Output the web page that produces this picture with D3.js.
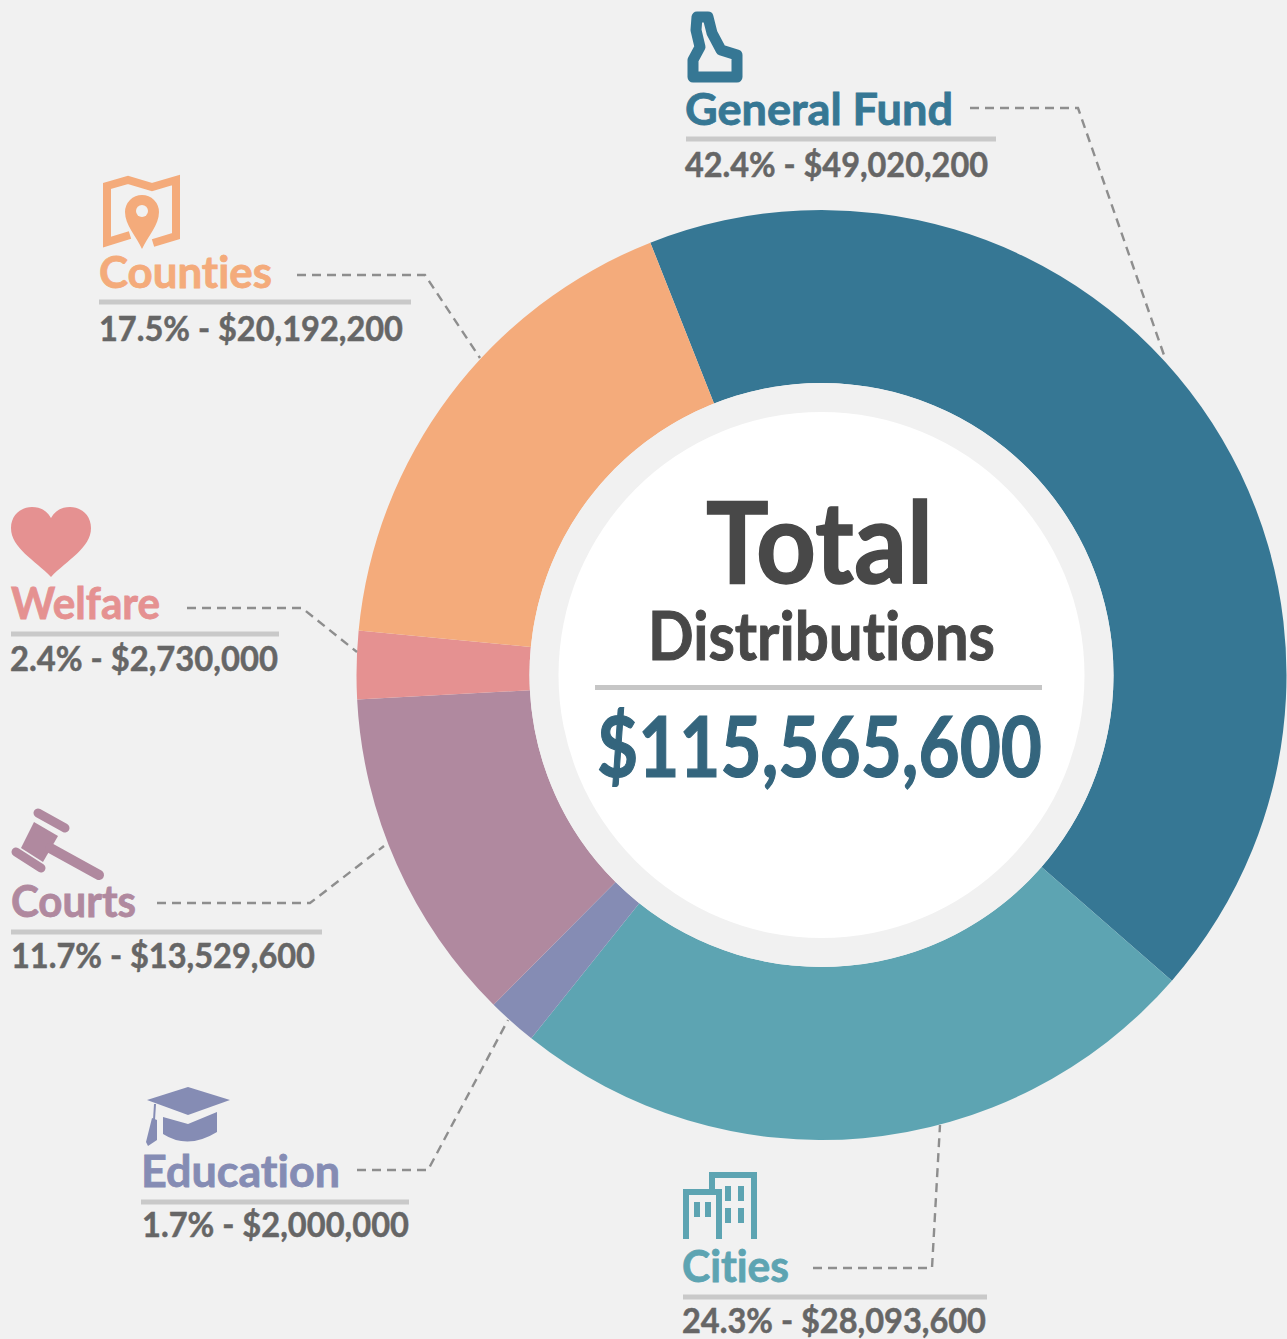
<!DOCTYPE html>
<html>
<head>
<meta charset="utf-8">
<script src="https://cdn.jsdelivr.net/npm/d3@7/dist/d3.min.js"></script>
<style>
html,body{margin:0;padding:0;background:#f1f1f1;overflow:hidden}
svg{display:block}
text{font-family:Lato,"Open Sans",sans-serif;font-weight:700;font-variant-ligatures:none;paint-order:stroke}
</style>
</head>
<body>
<svg id="chart" width="1287" height="1339"></svg>
<script>
const categories = ["General Fund","Cities","Education","Courts","Welfare","Counties"];
const amounts = [49020200,28093600,2000000,13529600,2730000,20192200];
const colors = ["#367794","#5da4b2","#858cb4","#b0899f","#e59191","#f4ab7b"];

// Layout of the callouts, in the same order as the categories
const titleAnchors = [[685,125,268,44],[682,1282,107,44],[141,1187,199,44],[11,917,125,44],[11,619,149,44],[99,288,173,44]];
const ruleSpans = [[686,996,139],[683,987,1297],[141,409,1202],[11,322,932],[11,279,634],[99,411,302]];
const detailAnchors = [[685,177,303],[682,1333,304],[142,1237,267],[11,968,304],[10,671,268],[99,341,304]];
const leaders = [
  [[970,108],[1078,108],[1165,358]],
  [[813,1268],[932,1268],[940,1125]],
  [[357,1170],[428,1170],[508,1020]],
  [[157,903],[310,903],[384,846]],
  [[187,608],[302,608],[357,652]],
  [[297,275],[425,275],[480,358]]
];

const svg = d3.select("#chart");
const W = 1287, H = 1339, cx = 821.5, cy = 675;
svg.append("rect").attr("width",W).attr("height",H).attr("fill","#f1f1f1");

const total = d3.sum(amounts);
const startDeg = -21.6;
const pie = d3.pie().sort(null)
  .startAngle(startDeg*Math.PI/180)
  .endAngle((startDeg+360)*Math.PI/180)(amounts);
const arc = d3.arc().innerRadius(292).outerRadius(465);

const ring = svg.append("g").attr("transform",`translate(${cx},${cy})`);
ring.selectAll("path").data(pie).join("path")
  .attr("d",arc).attr("fill",(d,i)=>colors[i]);
ring.append("circle").attr("r",292).attr("fill","#f1f1f1");
ring.append("circle").attr("r",263).attr("fill","#ffffff");

// leader lines
const line = d3.line();
svg.append("g").selectAll("path").data(leaders).join("path")
  .attr("d",line).attr("fill","none").attr("stroke","#8e8e8e")
  .attr("stroke-width",2.4).attr("stroke-dasharray","9 6");

// callout text
const money = d3.format("$,");
const pct = d3.format(".1%");
const call = svg.append("g");
categories.forEach((c,i)=>{
  const [tx,ty,tw,ts] = titleAnchors[i];
  call.append("text").attr("x",tx).attr("y",ty).attr("font-size",ts)
    .attr("fill",colors[i]).attr("stroke",colors[i]).attr("stroke-width",0.8)
    .attr("textLength",tw).attr("lengthAdjust","spacingAndGlyphs").text(c);
  const [x0,x1,ry] = ruleSpans[i];
  call.append("rect").attr("x",x0).attr("y",ry-2.5).attr("width",x1-x0).attr("height",5).attr("fill","#c9c9c9");
  const [dx,dy,dw] = detailAnchors[i];
  call.append("text").attr("x",dx).attr("y",dy).attr("font-size",35)
    .attr("fill","#666666").attr("stroke","#666666").attr("stroke-width",0.5)
    .attr("textLength",dw).attr("lengthAdjust","spacingAndGlyphs")
    .text(`${pct(amounts[i]/total)} - ${money(amounts[i])}`);
});

// centre text
const mid = svg.append("g");
mid.append("text").attr("x",706).attr("y",583).attr("font-size",113).attr("fill","#484848")
  .attr("stroke","#484848").attr("stroke-width",1.5)
  .attr("textLength",227).attr("lengthAdjust","spacingAndGlyphs").text("Total");
mid.append("text").attr("x",648).attr("y",660).attr("font-size",67).attr("fill","#484848")
  .attr("stroke","#484848").attr("stroke-width",1)
  .attr("textLength",347).attr("lengthAdjust","spacingAndGlyphs").text("Distributions");
mid.append("rect").attr("x",595).attr("y",685).attr("width",447).attr("height",5).attr("fill","#c6c6c6");
mid.append("text").attr("x",597).attr("y",777).attr("font-size",84).attr("fill","#34657d")
  .attr("stroke","#34657d").attr("stroke-width",1.2)
  .attr("textLength",445).attr("lengthAdjust","spacingAndGlyphs").text(money(total));

// icons
const icons = svg.append("g");
// Idaho
icons.append("path").attr("d","M697 17L708 17L712 33L721 50L737 55L737 77L693 77L693 60L700 47L696 30Z")
  .attr("fill","none").attr("stroke",colors[0]).attr("stroke-width",11).attr("stroke-linejoin","round");
// Map + pin
icons.append("path").attr("d","M130 235L107 242L107 186L128 180L152 187L176 180L176 236L153 243")
  .attr("fill","none").attr("stroke",colors[5]).attr("stroke-width",8);
icons.append("path").attr("d","M142 249C136 236 125 225 125 212A17 17 0 0 1 159 212C159 225 148 236 142 249Z").attr("fill",colors[5]);
icons.append("circle").attr("cx",142).attr("cy",211).attr("r",6).attr("fill","#f1f1f1");
// Heart
icons.append("path").attr("d","M51 577C35 560 11 548 11 528C11 515 21 507 32 507C41 507 47 511 51 518C55 511 61 507 70 507C81 507 91 515 91 528C91 548 67 560 51 577Z").attr("fill",colors[4]);
// Gavel
icons.append("path").attr("d","M34 822L58 836L43 862L21 848Z").attr("fill",colors[3]);
icons.selectAll("line.g").data([[38,813,65,828,9],[16,852,41,868,9],[50,848,99,875,10]]).join("line")
  .attr("x1",d=>d[0]).attr("y1",d=>d[1]).attr("x2",d=>d[2]).attr("y2",d=>d[3])
  .attr("stroke",colors[3]).attr("stroke-width",d=>d[4]).attr("stroke-linecap","round");
// Graduation cap
icons.append("path").attr("d","M188 1087L230 1100L188 1115L147 1100Z").attr("fill",colors[2]);
icons.append("path").attr("d","M163 1117L188 1124L217 1112L217 1132Q188 1150 163 1134Z").attr("fill",colors[2]);
icons.append("path").attr("d","M155 1104L154 1120").attr("stroke",colors[2]).attr("stroke-width",2).attr("fill","none");
icons.append("path").attr("d","M152 1118L157 1120L157 1140L148 1146L146 1142Z").attr("fill",colors[2]);
// Buildings
icons.append("path").attr("d","M712 1189L712 1175L754 1175L754 1239M686 1239L686 1192L719 1192L719 1239")
  .attr("fill","none").attr("stroke",colors[1]).attr("stroke-width",6);
icons.selectAll("rect.w").data([[694,1202],[705,1202],[725,1186],[738,1186],[725,1208],[738,1208]]).join("rect")
  .attr("x",d=>d[0]).attr("y",d=>d[1]).attr("width",6).attr("height",15).attr("fill",colors[1]);
</script>
</body>
</html>
